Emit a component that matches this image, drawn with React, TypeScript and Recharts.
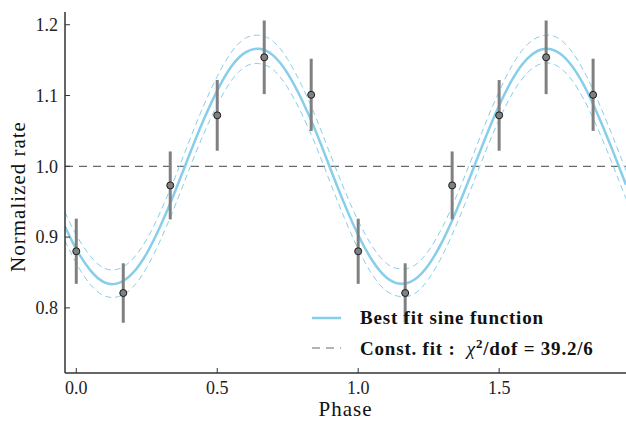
import { ComposedChart, Line, Scatter, ErrorBar, XAxis, YAxis, ReferenceLine } from 'recharts';

// best-fit sine curve (phase grid + solid curve + dashed 1-sigma band)
const curvePhase = [
  -0.04, 0, 0.05, 0.1, 0.15, 0.2, 0.25, 0.3, 0.35, 0.4, 0.45, 0.5, 0.55, 0.6, 0.65, 0.7, 0.75, 0.8, 0.85, 0.9, 0.95,
  1.0, 1.05, 1.1, 1.15, 1.2, 1.25, 1.3, 1.35, 1.4, 1.45, 1.5, 1.55, 1.6, 1.65, 1.7, 1.75, 1.8, 1.85, 1.9, 1.95,
];
const sineFit = [
  0.915, 0.883, 0.853, 0.836, 0.835, 0.849, 0.877, 0.917, 0.964, 1.015, 1.064, 1.107, 1.141, 1.161, 1.166, 1.156, 1.131, 1.094, 1.049, 0.998, 0.948,
  0.903, 0.867, 0.843, 0.834, 0.84, 0.861, 0.895, 0.939, 0.988, 1.039, 1.086, 1.125, 1.152, 1.165, 1.163, 1.146, 1.115, 1.073, 1.025, 0.974,
];
const sineUpper = [
  0.935, 0.903, 0.873, 0.856, 0.855, 0.869, 0.897, 0.937, 0.984, 1.035, 1.084, 1.127, 1.161, 1.181, 1.185, 1.176, 1.151, 1.114, 1.069, 1.018, 0.968,
  0.923, 0.887, 0.863, 0.855, 0.86, 0.881, 0.915, 0.959, 1.008, 1.059, 1.106, 1.145, 1.172, 1.184, 1.183, 1.166, 1.135, 1.093, 1.045, 0.994,
];
const sineLower = [
  0.895, 0.863, 0.833, 0.817, 0.816, 0.829, 0.857, 0.897, 0.944, 0.995, 1.044, 1.087, 1.121, 1.141, 1.145, 1.136, 1.111, 1.074, 1.029, 0.978, 0.928,
  0.883, 0.847, 0.824, 0.816, 0.82, 0.841, 0.875, 0.919, 0.968, 1.019, 1.066, 1.105, 1.132, 1.145, 1.143, 1.126, 1.095, 1.053, 1.005, 0.954,
];

// folded light curve, shown twice
const obsPhase = [0, 0.1667, 0.3333, 0.5, 0.6667, 0.8333, 1.0, 1.1667, 1.3333, 1.5, 1.6667, 1.8333];
const obsRate = [0.88, 0.821, 0.973, 1.072, 1.154, 1.101, 0.88, 0.821, 0.973, 1.072, 1.154, 1.101];
const obsErr = [0.046, 0.042, 0.048, 0.05, 0.052, 0.051, 0.046, 0.042, 0.048, 0.05, 0.052, 0.051];

const constFit = 1.0;
const xTicks = [0, 0.5, 1.0, 1.5];
const yTicks = [0.8, 0.9, 1.0, 1.1, 1.2];
const xDomain: [number, number] = [-0.04, 1.95];
const yDomain: [number, number] = [0.708, 1.218];

const curveData = curvePhase.map((x, i) => ({ x, fit: sineFit[i], hi: sineUpper[i], lo: sineLower[i] }));
const obsData = obsPhase.map((x, i) => ({ x, y: obsRate[i], err: obsErr[i] }));

const FONT = '"Liberation Serif", "Times New Roman", serif';
const SKY = '#87CEEB';
const AXIS = '#333';

const Dot = (props: any) => (
  <circle cx={props.cx} cy={props.cy} r={3.5} fill="#808080" stroke="#1a1a1a" strokeWidth={1} />
);

const YLabel = (props: any) => {
  const vb = props.viewBox;
  const cx = vb.x + 18;
  const cy = vb.y + vb.height / 2 + 4;
  return (
    <text x={cx} y={cy} transform={`rotate(-90, ${cx}, ${cy})`} textAnchor="middle" dominantBaseline="central"
      fontFamily={FONT} fontSize={21} letterSpacing={1} fill="#111">
      Normalized rate
    </text>
  );
};

const XLabel = (props: any) => {
  const vb = props.viewBox;
  return (
    <text x={vb.x + vb.width / 2} y={vb.y + 43} textAnchor="middle" fontFamily={FONT} fontSize={21} letterSpacing={1} fill="#111">
      Phase
    </text>
  );
};

export default function App() {
  const tickStyle = { fill: '#222', fontSize: 18, fontFamily: FONT };
  return (
    <div style={{ position: 'absolute', left: 0, top: 0, width: 626, height: 421, background: '#fff' }}>
      <ComposedChart width={626} height={421} data={curveData} margin={{ top: 12, right: 0, bottom: 0, left: 0 }}>
        <XAxis dataKey="x" type="number" domain={xDomain} ticks={xTicks} allowDataOverflow height={48}
          tickFormatter={(v: number) => v.toFixed(1)} tick={tickStyle} tickSize={-5} tickMargin={13}
          axisLine={{ stroke: AXIS, strokeWidth: 1.5 }} tickLine={{ stroke: AXIS, strokeWidth: 1 }} label={<XLabel />} />
        <XAxis xAxisId="top" orientation="top" dataKey="x" type="number" domain={xDomain} ticks={xTicks} allowDataOverflow height={0}
          tick={false} tickSize={-5} axisLine={{ stroke: AXIS, strokeWidth: 1.5 }} tickLine={{ stroke: AXIS, strokeWidth: 1 }} />
        <YAxis type="number" domain={yDomain} ticks={yTicks} allowDataOverflow width={65}
          tickFormatter={(v: number) => v.toFixed(1)} tick={tickStyle} tickSize={-5} tickMargin={12}
          axisLine={{ stroke: AXIS, strokeWidth: 1.5 }} tickLine={{ stroke: AXIS, strokeWidth: 1 }} label={<YLabel />} />
        <YAxis yAxisId="right" orientation="right" type="number" domain={yDomain} ticks={yTicks} allowDataOverflow width={0}
          tick={false} tickSize={-5} axisLine={{ stroke: AXIS, strokeWidth: 1.5 }} tickLine={{ stroke: AXIS, strokeWidth: 1 }} />

        <ReferenceLine y={constFit} stroke="#6a6a6a" strokeWidth={1.2} strokeDasharray="8 6" />
        <Line dataKey="hi" type="natural" stroke={SKY} strokeWidth={1} strokeDasharray="6 4" dot={false} isAnimationActive={false} />
        <Line dataKey="lo" type="natural" stroke={SKY} strokeWidth={1} strokeDasharray="6 4" dot={false} isAnimationActive={false} />
        <Line dataKey="fit" type="natural" stroke={SKY} strokeWidth={2.5} dot={false} isAnimationActive={false} />
        <Scatter data={obsData} dataKey="y" shape={<Dot />} isAnimationActive={false}>
          <ErrorBar dataKey="err" direction="y" width={0} stroke="#808080" strokeWidth={3} />
        </Scatter>
      </ComposedChart>

      <div style={{ position: 'absolute', left: 312, top: 303, fontFamily: FONT, fontSize: 19, fontWeight: 'bold', color: '#111', letterSpacing: 0.8 }}>
        <div style={{ display: 'flex', alignItems: 'center', height: 30 }}>
          <svg width={29} height={6} style={{ marginRight: 19 }}>
            <line x1={0} y1={3} x2={29} y2={3} stroke={SKY} strokeWidth={2.5} />
          </svg>
          <span>Best fit sine function</span>
        </div>
        <div style={{ display: 'flex', alignItems: 'center', height: 30 }}>
          <svg width={29} height={6} style={{ marginRight: 19 }}>
            <line x1={0} y1={3} x2={29} y2={3} stroke="#6a6a6a" strokeWidth={1.2} strokeDasharray="8 6" />
          </svg>
          <span>
            Const. fit :&nbsp; <i style={{ fontWeight: 'normal' }}>χ</i>
            <sup style={{ fontSize: 13 }}>2</sup>/dof = 39.2/6
          </span>
        </div>
      </div>
    </div>
  );
}
